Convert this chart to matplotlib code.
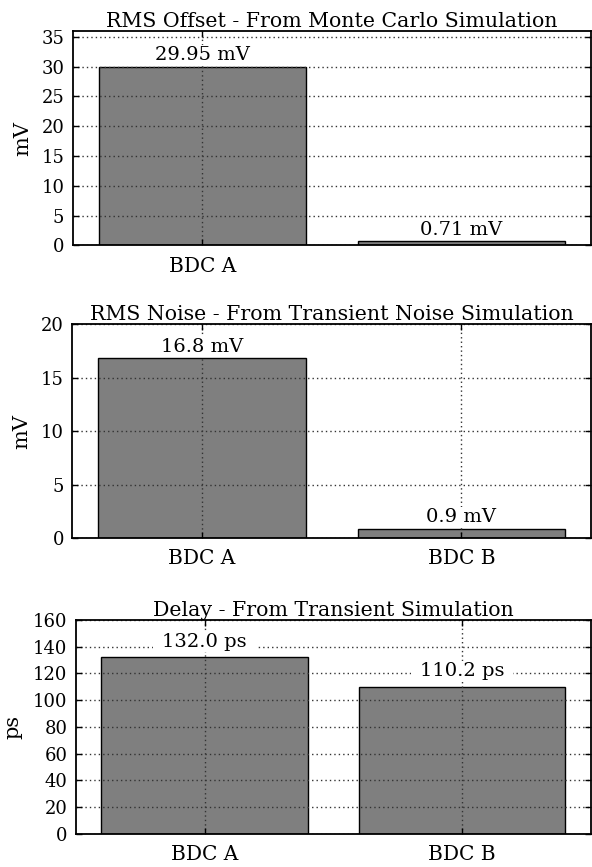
import matplotlib
matplotlib.use("Agg")
import matplotlib.pyplot as plt

plt.rcParams["font.family"] = ["DejaVu Serif"]
plt.rcParams["font.size"] = 14

# Data
categories = ["BDC A", "BDC B"]
offset_mv = [29.95, 0.71]
noise_mv = [16.8, 0.9]
delay_ps = [132.0, 110.2]

panels = [
    dict(title="RMS Offset - From Monte Carlo Simulation", values=offset_mv,
         unit="mV", fmt="{:.2f} mV", ylim=36, step=5, nticks=1,
         rect=[0.1228, 0.7169, 0.8755, 0.2474], lab=-0.079, off=4.8),
    dict(title="RMS Noise - From Transient Noise Simulation", values=noise_mv,
         unit="mV", fmt="{:.1f} mV", ylim=20, step=5, nticks=2,
         rect=[0.1221, 0.3791, 0.8762, 0.2472], lab=-0.079, off=4.8),
    dict(title="Delay - From Transient Simulation", values=delay_ps,
         unit="ps", fmt="{:.1f} ps", ylim=160, step=20, nticks=2,
         rect=[0.1279, 0.0381, 0.8704, 0.2468], lab=-0.103, off=7.4),
]

fig = plt.figure(figsize=(5.92, 8.67), dpi=100)

for p in panels:
    ax = fig.add_axes(p["rect"])
    x = list(range(len(categories)))
    ax.bar(x, p["values"], width=0.8, color="#7f7f7f", edgecolor="black",
           linewidth=1.0, zorder=1)
    ax.set_xlim(-0.5, 1.5)
    ax.set_ylim(0, p["ylim"])
    ax.set_yticks(range(0, p["ylim"] + 1, p["step"]))
    ax.set_xticks(x[:p["nticks"]])
    ax.set_xticklabels(categories[:p["nticks"]], fontsize=14.5)
    ax.grid(True, linestyle=(0, (1, 2.2)), color="0.2", linewidth=1.0, zorder=2)
    ax.set_axisbelow(False)
    ax.tick_params(direction="in", top=True, right=True, length=4, width=1.0)
    ax.tick_params(axis="y", pad=6, labelsize=13)
    ax.tick_params(axis="x", pad=8)
    for s in ax.spines.values():
        s.set_linewidth(1.3)
        s.set_zorder(4)
    ax.set_title(p["title"], fontsize=14.8, pad=3)
    ax.set_ylabel(p["unit"], fontsize=15)
    ax.yaxis.set_label_coords(p["lab"], 0.5)
    for xi, v in zip(x, p["values"]):
        ax.annotate(p["fmt"].format(v), (xi, v), xytext=(0, p["off"]),
                    textcoords="offset points", ha="center", va="baseline",
                    fontsize=14, zorder=3,
                    bbox=dict(boxstyle="square,pad=0.45", fc="white", ec="none",
                              mutation_aspect=0.12))

fig.savefig("out.png", dpi=100)
